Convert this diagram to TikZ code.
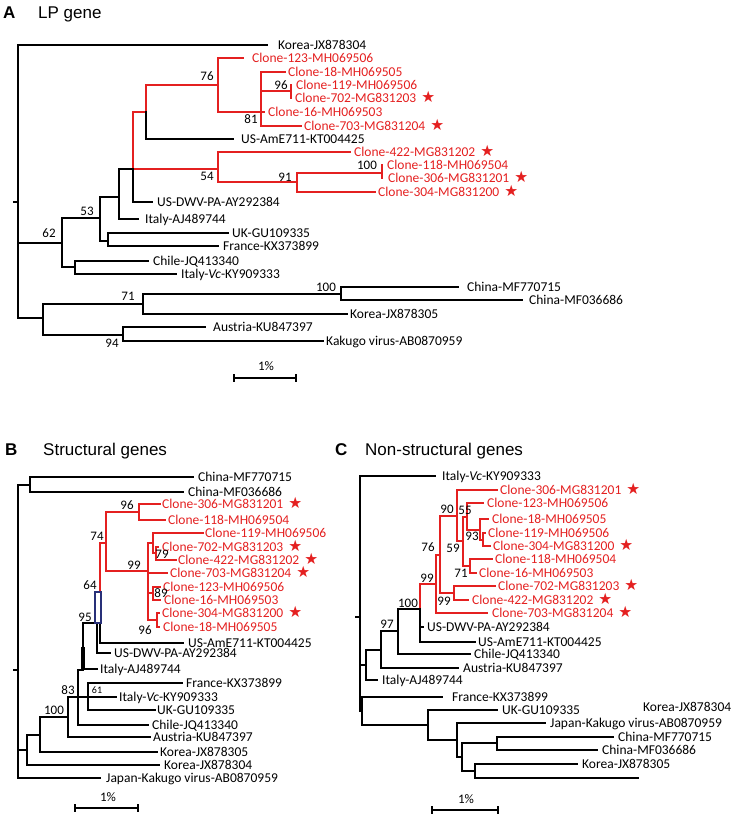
\documentclass[tikz,border=0pt]{standalone}
\usepackage{fontspec}
\setmainfont{Carlito}
\newfontfamily\ttlfont{Liberation Sans}
\newfontfamily\symfont{DejaVu Sans}
\definecolor{cr}{RGB}{228,32,32}
\definecolor{navy}{RGB}{40,48,120}
\tikzset{
 bk/.style={draw=black,line width=2.0pt,line cap=rect},
 rd/.style={draw=cr,line width=2.0pt,line cap=rect},
 bktxt/.style={text=black},
 rdtxt/.style={text=cr},
 lbl/.style={anchor=west,inner sep=0pt,text height=8.6pt,text depth=0pt,font=\fontsize{13.5}{14}\selectfont},
 bs/.style={inner sep=0pt,text height=8.4pt,text depth=0pt,font=\fontsize{13}{14}\selectfont},
 bssm/.style={inner sep=0pt,text height=6.6pt,text depth=0pt,font=\fontsize{10}{11}\selectfont},
 ttl/.style={anchor=west,inner sep=0pt,text height=12.2pt,text depth=0pt,font=\ttlfont\fontsize{17}{18}\selectfont},
 sb/.style={draw=black,line width=2.0pt},
 sbt/.style={draw=black,line width=1.5pt},
}
\newcommand\st{\hspace{5pt}{\symfont\fontsize{15.5}{15}\selectfont ★}}
\newcommand\br[4][bk]{\coordinate (#2) at (#4);\draw[#1] (#3) |- (#2);}
\newcommand\lf[7][bk]{\coordinate (#2e) at (#4,#5);\draw[#1] (#3) |- (#2e);\node[lbl,#1txt] (#2) at (#6,#5) {#7};}
\begin{document}
\begin{tikzpicture}[x=1pt,y=-1pt]
\useasboundingbox (0,0) rectangle (734,818);
% ================= Panel A =================
\node[ttl] (tA) at (3,12.5) {\bfseries A};
\node[ttl] (tAt) at (38,12.5) {LP gene};
\coordinate (aR) at (18,202);
\coordinate (aRs) at (14,202);
\draw[bk] (aRs) -- (aR);
\lf{aK304}{aR}{267}{45}{278}{Korea-JX878304}
\br{a62}{aR}{62,243}
\br{aNB}{aR}{43,318}
\br{a53}{a62}{100,218}
\br{aCV}{a62}{75,267}
\br{a119}{a53}{119,197}
\br{aUF}{a53}{108,241}
\br{aY}{a119}{133,169}
\lf{aIAJ}{a119}{138}{219}{145}{Italy-AJ489744}
\br[rd]{aX}{aY}{146,112}
\br[rd]{a54}{aY}{218,169}
\lf{aDWV}{aY}{152}{202}{157}{US-DWV-PA-AY292384}
\br[rd]{a76}{aX}{218,85}
\lf{aAmE}{aX}{233}{139}{241}{US-AmE711-KT004425}
\lf[rd]{a123}{a76}{243}{58}{252}{Clone-123-MH069506}
\br[rd]{a81}{a76}{261,112}
\lf[rd]{a18}{a81}{285}{72}{288}{Clone-18-MH069505}
\br[rd]{a96}{a81}{291,91}
\lf[rd]{a16}{a81}{264}{112}{268}{Clone-16-MH069503}
\lf[rd]{a703}{a81}{301}{126}{304}{Clone-703-MG831204\st}
\lf[rd]{a119c}{a96}{291}{85}{296}{Clone-119-MH069506}
\lf[rd]{a702}{a96}{291}{98}{295}{Clone-702-MG831203\st}
\lf[rd]{a422}{a54}{350}{152}{354}{Clone-422-MG831202\st}
\br[rd]{a91}{a54}{297,182}
\br[rd]{a100c}{a91}{382,173}
\lf[rd]{a304}{a91}{375}{192}{378}{Clone-304-MG831200\st}
\lf[rd]{a118}{a100c}{382}{165}{387}{Clone-118-MH069504}
\lf[rd]{a306}{a100c}{382}{178}{388}{Clone-306-MG831201\st}
\lf{aUK}{aUF}{228}{233}{232}{UK-GU109335}
\lf{aFR}{aUF}{218}{246}{223}{France-KX373899}
\lf{aCL}{aCV}{148}{261}{153}{Chile-JQ413340}
\lf{aIVc}{aCV}{176}{274}{181}{Italy-\textit{Vc}-KY909333}
\br{a71}{aNB}{143,304}
\br{a94}{aNB}{123,335}
\br{a100}{a71}{341,294}
\lf{aK305}{a71}{347}{314}{350}{Korea-JX878305}
\lf{aCN1}{a100}{458}{287}{467}{China-MF770715}
\lf{aCN2}{a100}{522}{300}{529}{China-MF036686}
\lf{aAU}{a94}{205}{327}{213}{Austria-KU847397}
\lf{aKK}{a94}{323}{341}{326}{Kakugo virus-AB0870959}
% bootstrap A
\node[bs] (ab76) at (207,76) {76};
\node[bs] (ab81) at (251,119) {81};
\node[bs] (ab96) at (281,85) {96};
\node[bs] (ab54) at (207,176) {54};
\node[bs] (ab91) at (285,177) {91};
\node[bs] (ab100c) at (367,165) {100};
\node[bs] (ab53) at (87,211) {53};
\node[bs] (ab62) at (49,233) {62};
\node[bs] (ab71) at (128,296) {71};
\node[bs] (ab94) at (112,343) {94};
\node[bs] (ab100) at (326,287) {100};
% scale A
\coordinate (aS1) at (234,378); \coordinate (aS2) at (296,378);
\coordinate (aS1t) at (234,374); \coordinate (aS1b) at (234,382);
\coordinate (aS2t) at (296,374); \coordinate (aS2b) at (296,382);
\draw[sb] (aS1) -- (aS2);
\draw[sbt] (aS1t) -- (aS1b);
\draw[sbt] (aS2t) -- (aS2b);
\node[bs] (aS) at (266,366) {1\%};
% ================= Panel B =================
\node[ttl] (tB) at (5,449) {\bfseries B};
\node[ttl] (tBt) at (43,449) {Structural genes};
\coordinate (bR) at (18,670); \coordinate (bRs) at (14,670);
\draw[bk] (bRs) -- (bR);
\br{bCh}{bR}{30,484.5}
\lf{bCN1}{bCh}{193}{477}{198}{China-MF770715}
\lf{bCN2}{bCh}{183}{492}{188}{China-MF036686}
\br{bR2}{bR}{27,750}
\lf{bJP}{bR}{100}{778}{106}{Japan-Kakugo virus-AB0870959}
\br{bR3}{bR2}{40,735}
\lf{bK304}{bR2}{159}{765}{164}{Korea-JX878304}
\br{b100}{bR3}{68,717}
\lf{bK305}{bR3}{157}{752}{160}{Korea-JX878305}
\br{b83}{b100}{78,697}
\lf{bAU}{b100}{150}{737}{153}{Austria-KU847397}
\br{b83b}{b83}{83,670}
\br{b61}{b83}{88,697}
\lf{bCL}{b83}{148}{725}{152}{Chile-JQ413340}
\lf{bFR}{b61}{182}{683}{186}{France-KX373899}
\lf{bIVc}{b61}{116}{697}{119}{Italy-\textit{Vc}-KY909333}
\lf{bUK}{b61}{155}{710}{157}{UK-GU109335}
\br{b95}{b83b}{97,623}
\lf{bIAJ}{b83b}{97}{669}{100}{Italy-AJ489744}
\br{b64}{b95}{100,593}
\lf{bDWV}{b95}{110}{653}{114}{US-DWV-PA-AY292384}
\br[rd]{b74}{b64}{106,543}
\lf{bAmE}{b64}{183}{643}{188}{US-AmE711-KT004425}
\br[rd]{b96}{b74}{139,512}
\br[rd]{b99}{b74}{148,571}
\lf[rd]{b306}{b96}{160}{504}{162}{Clone-306-MG831201\st}
\lf[rd]{b118}{b96}{165}{520}{168}{Clone-118-MH069504}
\br[rd]{bA1}{b99}{153,543}
\lf[rd]{b703}{b99}{167}{573}{170}{Clone-703-MG831204\st}
\br[rd]{b89}{b99}{153,593}
\br[rd]{b96c}{b99}{157,620}
\lf[rd]{b119}{bA1}{203}{533}{205}{Clone-119-MH069506}
\br[rd]{b79}{bA1}{156,553}
\lf[rd]{b702}{b79}{158}{547}{162}{Clone-702-MG831203\st}
\lf[rd]{b422}{b79}{176}{560}{178}{Clone-422-MG831202\st}
\lf[rd]{b123}{b89}{160}{587}{163}{Clone-123-MH069506}
\lf[rd]{b16}{b89}{160}{600}{164}{Clone-16-MH069503}
\lf[rd]{b304}{b96c}{159}{613}{162}{Clone-304-MG831200\st}
\lf[rd]{b18}{b96c}{159}{627}{163}{Clone-18-MH069505}
% highlight and thick short branch
\draw[bk,line width=3.6pt,line cap=butt] (83,647) -- (83,670);
\draw[draw=navy,fill=white,line width=1.4pt] (95,592) rectangle (101,623);
% bootstrap B
\node[bs] (bb96) at (127,505) {96};
\node[bs] (bb74) at (97,536) {74};
\node[bs] (bb99) at (134,565) {99};
\node[bs] (bb79) at (162,554) {79};
\node[bs] (bb89) at (161,593) {89};
\node[bs] (bb96c) at (145,630) {96};
\node[bs] (bb64) at (90,585) {64};
\node[bs] (bb95) at (85,617) {95};
\node[bs] (bb83) at (68,690) {83};
\node[bssm] (bb61) at (97,690) {61};
\node[bs] (bb100) at (54,710) {100};
% scale B
\coordinate (bS1) at (75,808); \coordinate (bS2) at (138,808);
\coordinate (bS1t) at (75,804); \coordinate (bS1b) at (75,812);
\coordinate (bS2t) at (138,804); \coordinate (bS2b) at (138,812);
\draw[sb] (bS1) -- (bS2);
\draw[sbt] (bS1t) -- (bS1b);
\draw[sbt] (bS2t) -- (bS2b);
\node[bs] (bS) at (108,797) {1\%};
% ================= Panel C =================
\node[ttl] (tC) at (335,449) {\bfseries C};
\node[ttl] (tCt) at (365,449) {Non-structural genes};
\coordinate (cR) at (360,617); \coordinate (cRs) at (356,617);
\draw[bk] (cRs) -- (cR);
\lf{cIVc}{cR}{435}{476}{442}{Italy-\textit{Vc}-KY909333}
\br{c366}{cR}{366,665}
\br{cZ}{cR}{362,711}
\br{c97}{c366}{381,650}
\lf{cIAJ}{c366}{377}{680}{382}{Italy-AJ489744}
\br{c100}{c97}{398,631}
\lf{cAU}{c97}{458}{668}{463}{Austria-KU847397}
\br{cN0}{c100}{420,609}
\lf{cCL}{c100}{470}{654}{474}{Chile-JQ413340}
\br[rd]{c99}{cN0}{436,584}
\lf{cDWV}{cN0}{423}{627}{427}{US-DWV-PA-AY292384}
\lf{cAmE}{cN0}{475}{642}{478}{US-AmE711-KT004425}
\br[rd]{c76}{c99}{440,555}
\lf[rd]{c703}{c99}{487}{613}{492}{Clone-703-MG831204\st}
\br[rd]{c90}{c76}{457,516}
\br[rd]{c99b}{c76}{454,593}
\lf[rd]{c702}{c99b}{495}{586}{498}{Clone-702-MG831203\st}
\lf[rd]{c422}{c99b}{468}{600}{472}{Clone-422-MG831202\st}
\lf[rd]{c306}{c90}{497}{490}{500}{Clone-306-MG831201\st}
\br[rd]{c59}{c90}{463,541}
\br[rd]{c55}{c59}{467,517}
\br[rd]{c71}{c59}{470,566}
\lf[rd]{c123}{c55}{483}{503}{487}{Clone-123-MH069506}
\br[rd]{c93}{c55}{480,530}
\lf[rd]{c18}{c93}{488}{519}{492}{Clone-18-MH069505}
\br[rd]{c93b}{c93}{483,540}
\lf[rd]{c119}{c93b}{485}{533}{488}{Clone-119-MH069506}
\lf[rd]{c304}{c93b}{490}{546}{493}{Clone-304-MG831200\st}
\lf[rd]{c118}{c71}{492}{559}{495}{Clone-118-MH069504}
\lf[rd]{c16}{c71}{476}{573}{479}{Clone-16-MH069503}
\lf{cFR}{cZ}{442}{697}{452}{France-KX373899}
\br{cN1}{cZ}{428,725}
\lf{cUK}{cN1}{497}{710}{502}{UK-GU109335}
\br{cN2}{cN1}{457,740}
\lf{cJP}{cN2}{545}{723}{550}{Japan-Kakugo virus-AB0870959}
\br{cN3}{cN2}{462,757}
\br{cN4}{cN3}{497,743}
\br{cN5}{cN3}{475,771}
\lf{cCN1}{cN4}{613}{737}{618}{China-MF770715}
\lf{cCN2}{cN4}{597}{750}{602}{China-MF036686}
\lf{cK305}{cN5}{577}{764}{582}{Korea-JX878305}
\coordinate (cK304e) at (638,778);
\draw[bk] (cN5) |- (cK304e);
\node[lbl] (cK304) at (643,707) {Korea-JX878304};
% bootstrap C
\node[bs] (cb90) at (447,509) {90};
\node[bs] (cb55) at (465,510) {55};
\node[bs] (cb93) at (472,536) {93};
\node[bs] (cb76) at (428,547) {76};
\node[bs] (cb59) at (453,548) {59};
\node[bs] (cb71) at (461,573) {71};
\node[bs] (cb99) at (427,578) {99};
\node[bs] (cb99b) at (444,601) {99};
\node[bs] (cb100) at (408,603) {100};
\node[bs] (cb97) at (387,624) {97};
% scale C
\coordinate (cS1) at (432,810); \coordinate (cS2) at (498,810);
\coordinate (cS1t) at (432,806); \coordinate (cS1b) at (432,814);
\coordinate (cS2t) at (498,806); \coordinate (cS2b) at (498,814);
\draw[sb] (cS1) -- (cS2);
\draw[sbt] (cS1t) -- (cS1b);
\draw[sbt] (cS2t) -- (cS2b);
\node[bs] (cS) at (466,799) {1\%};
\end{tikzpicture}
\end{document}
